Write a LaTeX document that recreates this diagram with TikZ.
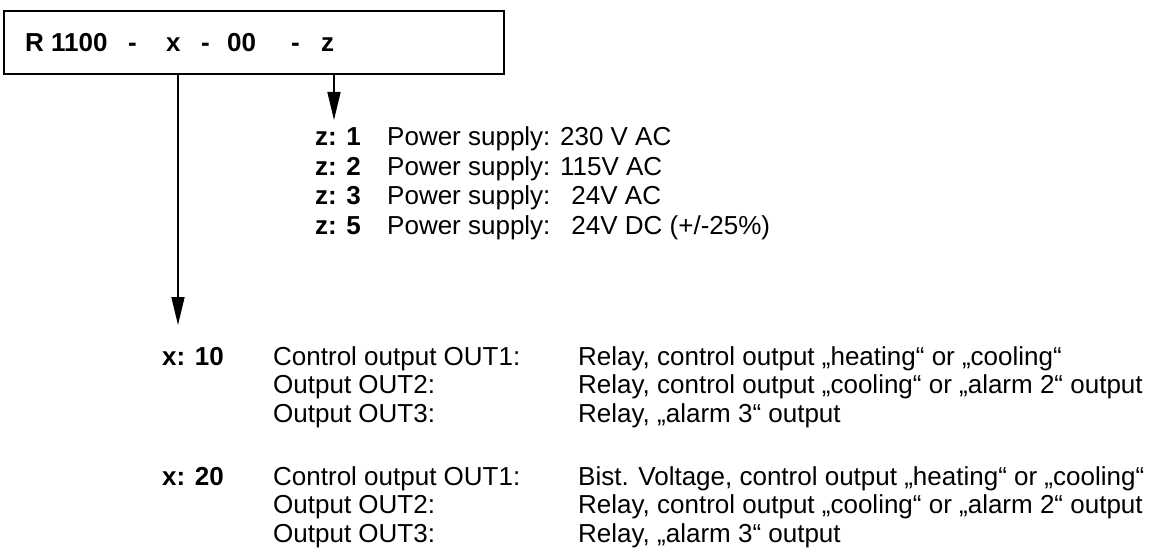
\documentclass[tikz,border=0pt]{standalone}
\usepackage{fontspec}
\setmainfont{Liberation Sans}
\usetikzlibrary{arrows.meta}
\begin{document}
\begin{tikzpicture}[x=1pt,y=-1pt,
  txt/.style={inner sep=0pt,anchor=base west,font=\fontsize{26}{28}\selectfont},
  btxt/.style={txt,font=\fontsize{26}{28}\selectfont\bfseries},
  arr/.style={line width=1.6pt,-{Triangle[length=28pt,width=13pt]}},
  framebox/.style={draw,line width=1.6pt,inner sep=0pt,anchor=north west,minimum width=500pt,minimum height=63pt}]
\useasboundingbox (0,0) rectangle (1157,548);
\node[framebox] (box) at (3,10) {};
% code text
\node[btxt] (tR) at (25,52) {R 1100};
\node[btxt] (d1) at (128,52) {-};
\node[btxt] (tx) at (166,52) {x};
\node[btxt] (d2) at (201,52) {-};
\node[btxt] (t00) at (227,52) {00};
\node[btxt] (d3) at (291,52) {-};
\node[btxt] (tz) at (321,52) {z};
% arrows
\coordinate (zend) at (334,120);
\coordinate (xend) at (178,325);
\draw[arr] (box.south -| zend) -- (zend);
\draw[arr] (box.south -| xend) -- (xend);
% z options
\node[btxt] (z1) at (315,146) {z: 1};
\node[txt] (z1t) at (387,146) {Power supply: 230 V AC};
\node[btxt] (z2) at (315,175.5) {z: 2};
\node[txt] (z2t) at (387,175.5) {Power supply: 115V AC};
\node[btxt] (z3) at (315,205) {z: 3};
\node[txt] (z3t) at (387,205) {Power supply:\hspace{21pt}24V AC};
\node[btxt] (z5) at (315,234.5) {z: 5};
\node[txt] (z5t) at (387,234.5) {Power supply:\hspace{21pt}24V DC (+/-25\%)};
% x options
\node[btxt] (x10) at (162,365) {x: 10};
\node[txt] (a1) at (273,365) {Control output OUT1:};
\node[txt] (b1) at (578,365) {Relay, control output „heating“ or „cooling“};
\node[txt] (a2) at (273,393.5) {Output OUT2:};
\node[txt] (b2) at (578,393.5) {Relay, control output „cooling“ or „alarm 2“ output};
\node[txt] (a3) at (273,422) {Output OUT3:};
\node[txt] (b3) at (578,422) {Relay, „alarm 3“ output};
\node[btxt] (x20) at (162,485) {x: 20};
\node[txt] (c1) at (273,485) {Control output OUT1:};
\node[txt] (e1) at (578,485) {Bist. Voltage, control output „heating“ or „cooling“};
\node[txt] (c2) at (273,513.5) {Output OUT2:};
\node[txt] (e2) at (578,513.5) {Relay, control output „cooling“ or „alarm 2“ output};
\node[txt] (c3) at (273,542) {Output OUT3:};
\node[txt] (e3) at (578,542) {Relay, „alarm 3“ output};
\end{tikzpicture}
\end{document}
